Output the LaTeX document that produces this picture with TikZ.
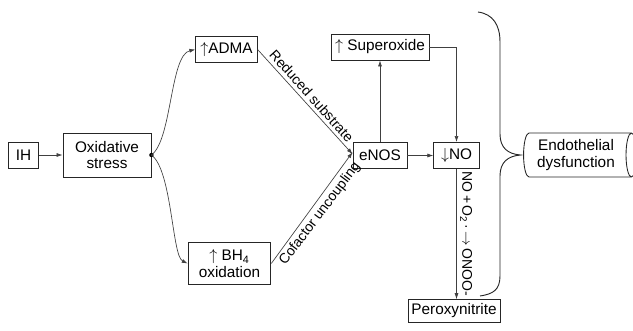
\documentclass[tikz,border=0pt]{standalone}
\usepackage{fontspec}
\setmainfont{Liberation Sans}
\usetikzlibrary{arrows.meta,shapes.geometric}

\tikzset{every picture/.style={line width=0.75pt}}
\tikzset{
  box/.style={draw=black!85, line width=0.65pt, align=center, inner sep=2pt, minimum height=19.5pt, font=\fontsize{11.5}{12.5}\selectfont},
  link/.style={draw=black!75, line width=0.5pt, -{Latex[length=4.5pt,width=3pt]}},
  tag/.style={font=\fontsize{10.5}{12}\selectfont, inner sep=2.5pt},
}

\begin{document}
\begin{tikzpicture}[x=0.75pt,y=0.75pt,yscale=-1,xscale=1]
\useasboundingbox (0,0) rectangle (633,330);

%Boxes
\draw (23.5,155) node [box, minimum width=23pt] (ih) {IH};
\draw (107,155) node [box, minimum width=66pt, minimum height=33pt] (ox) {Oxidative\\stress};
\draw (226.5,49.5) node [box, minimum width=46pt] (adma) {$\uparrow$ADMA};
\draw (229.5,263.5) node [box, minimum width=62pt, minimum height=32pt] (bh) {$\uparrow$ BH\textsubscript{4}\\oxidation};
\draw (380,47) node [box, minimum width=73.5pt] (sup) {$\uparrow$ Superoxide};
\draw (380,155.5) node [box, minimum width=40.5pt] (enos) {eNOS};
\draw (456.5,155.5) node [box, minimum width=34pt] (no) {$\downarrow$NO};
\draw (454,311) node [box, minimum width=69pt, minimum height=17pt] (pero) {Peroxynitrite};
\draw (576,155) node [box, cylinder, shape aspect=0.3, minimum height=85pt, minimum width=33pt] (endo) {Endothelial\\dysfunction};

%Connectors
\draw [link] (ih) -- (ox);
\fill (ox.east) circle (2.2);
\draw [link] (ox.east) .. controls (172,140) and (170,55) .. (adma.west);
\draw [link] (ox.east) .. controls (172,170) and (172,256) .. (bh.west);
\draw [link] (adma.east) -- ([yshift=-1pt]enos.west) node [tag, midway, rotate=-48, anchor=south] {Reduced substrate};
\draw [link] (bh.east) -- ([yshift=-2.5pt]enos.west) node [tag, midway, rotate=53, anchor=north] {Cofactor uncoupling};
\draw [link] (enos) -- (no);
\draw [link] (enos) -- (sup);
\draw [link] (sup.east) -| (no.north);
\draw [link] (no.south) -- (no.south |- pero.north) node [tag, midway, rotate=-90, anchor=south] {NO\,+\,O\textsubscript{2}\,·\,$\rightarrow$\,ONOO-};

%Brace
\coordinate (bracetop) at (478,12);
\coordinate (bracebot) at (480,296);
\draw [black!85, line width=0.7pt] (bracetop) .. controls (493,14) and (500,25) .. (500,42) -- (500,134) .. controls (500,148) and (508,154) .. ([xshift=-2pt]endo.west) .. controls (508,156) and (500,162) .. (500,176) -- (500,276) .. controls (500,290) and (493,294) .. (bracebot);

\end{tikzpicture}
\end{document}
